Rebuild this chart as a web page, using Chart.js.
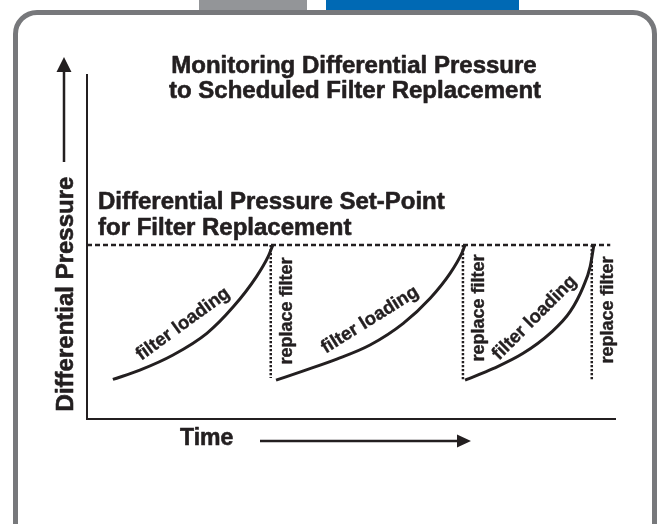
<!DOCTYPE html>
<html>
<head>
<meta charset="utf-8">
<script src="https://cdn.jsdelivr.net/npm/chart.js@4.4.1/dist/chart.umd.min.js"></script>
<style>
  html, body { margin: 0; padding: 0; background: #fff; overflow: hidden; }
  body { width: 661px; height: 524px; position: relative; }
  .tab { position: absolute; top: 0; height: 10px; }
  .tab.grey { left: 199px; width: 108px; background: #939598; }
  .tab.blue { left: 326px; width: 193px; background: #0069b4; }
  .frame {
    position: absolute; left: 13px; top: 10px; width: 634px; height: 530px;
    border: 5px solid #77787b; border-radius: 24px;
  }
  #chart { position: absolute; left: 0; top: 0; }
</style>
</head>
<body>
<div class="tab grey"></div>
<div class="tab blue"></div>
<div class="frame"></div>
<canvas id="chart" width="661" height="524"></canvas>
<script>
// values (time 0-100, pressure 0-100)
const setPoint = 50.6;
const setPointEnd = 99.1;

const load1Time = [4.9, 10.0, 16.3, 22.7, 27.7, 32.1, 34.3, 35.2];
const load1Dp   = [11.5, 14.2, 18.6, 24.9, 32.6, 41.4, 47.2, 50.6];

const load2Time = [35.8, 41.0, 47.3, 53.6, 59.9, 65.0, 68.8, 71.0, 71.6];
const load2Dp   = [11.3, 14.0, 17.4, 21.5, 27.8, 35.1, 42.4, 48.2, 50.6];

const load3Time = [71.6, 77.0, 82.6, 87.7, 91.5, 94.0, 95.3, 96.0];
const load3Dp   = [11.3, 14.7, 19.1, 24.9, 31.2, 38.5, 44.3, 50.6];

const replaceTime = [34.8, 71.2, 95.6];
const replaceLow  = [11.9, 11.3, 11.3];

const INK = '#231f20';
const FONT = '"Liberation Sans", Arial, Helvetica, sans-serif';

function pts(xs, ys) {
    return xs.map((x, i) => ({ x: x, y: ys[i] }));
}

const datasets = [
    {
        data: [{ x: 0, y: setPoint }, { x: setPointEnd, y: setPoint }],
        borderColor: INK, borderWidth: 2.5, borderDash: [5, 3]
    },
    { data: pts(load1Time, load1Dp), borderColor: INK, borderWidth: 3, cubicInterpolationMode: 'monotone' },
    { data: pts(load2Time, load2Dp), borderColor: INK, borderWidth: 3, cubicInterpolationMode: 'monotone' },
    { data: pts(load3Time, load3Dp), borderColor: INK, borderWidth: 3, cubicInterpolationMode: 'monotone' }
];
replaceTime.forEach((t, i) => {
    datasets.push({
        data: [{ x: t, y: setPoint }, { x: t, y: replaceLow[i] }],
        borderColor: INK, borderWidth: 2.5, borderDash: [2.2, 1.8]
    });
});

// bold text with a thin outline so it reads as heavy as the original
function heavyText(ctx, txt, x, y) {
    ctx.fillText(txt, x, y);
    ctx.strokeText(txt, x, y);
}

// text and arrows around the plot
const diagramText = {
    id: 'diagramText',
    afterDraw(chart) {
        const ctx = chart.ctx;
        const xs = chart.scales.x, ys = chart.scales.y;
        ctx.save();
        ctx.fillStyle = INK;
        ctx.strokeStyle = INK;
        ctx.lineWidth = 0.6;
        ctx.lineJoin = 'round';

        ctx.font = 'bold 24px ' + FONT;
        ctx.textAlign = 'center';
        ctx.textBaseline = 'alphabetic';
        heavyText(ctx, 'Monitoring Differential Pressure', 354, 73);
        heavyText(ctx, 'to Scheduled Filter Replacement', 355, 98);

        ctx.textAlign = 'left';
        heavyText(ctx, 'Differential Pressure Set-Point', 98, 209);
        heavyText(ctx, 'for Filter Replacement', 98, 235);
        ctx.font = 'bold 23px ' + FONT;
        heavyText(ctx, 'Time', 180, 445);

        ctx.font = 'bold 24px ' + FONT;
        ctx.save();
        ctx.translate(73, 294);
        ctx.rotate(-Math.PI / 2);
        ctx.textAlign = 'center';
        heavyText(ctx, 'Differential Pressure', 0, 0);
        ctx.restore();

        // replace filter labels beside the dotted drops
        ctx.font = 'bold 18px ' + FONT;
        ctx.lineWidth = 0.4;
        const replaceLabelY = [311, 308, 310];
        replaceTime.forEach((t, i) => {
            ctx.save();
            ctx.translate(xs.getPixelForValue(t) + 21, replaceLabelY[i]);
            ctx.rotate(-Math.PI / 2);
            ctx.textAlign = 'center';
            ctx.textBaseline = 'alphabetic';
            heavyText(ctx, 'replace filter', 0, 0);
            ctx.restore();
        });

        // filter loading labels above each curve
        ctx.font = 'bold 18.5px ' + FONT;
        const loadLabels = [
            { x: 18.2, y: 27.6, a: -36 },
            { x: 53.6, y: 28.8, a: -32 },
            { x: 84.8, y: 29.4, a: -45 }
        ];
        loadLabels.forEach(l => {
            ctx.save();
            ctx.translate(xs.getPixelForValue(l.x), ys.getPixelForValue(l.y));
            ctx.rotate(l.a * Math.PI / 180);
            ctx.textAlign = 'center';
            ctx.textBaseline = 'middle';
            heavyText(ctx, 'filter loading', 0, 0);
            ctx.restore();
        });

        // arrows
        ctx.lineWidth = 2.5;
        ctx.beginPath();
        ctx.moveTo(64, 162); ctx.lineTo(64, 70);
        ctx.moveTo(260, 441); ctx.lineTo(459, 441);
        ctx.stroke();
        ctx.beginPath();
        ctx.moveTo(64, 57); ctx.lineTo(71.5, 72); ctx.lineTo(56.5, 72); ctx.closePath();
        ctx.moveTo(471, 441); ctx.lineTo(457, 434.5); ctx.lineTo(457, 447.5); ctx.closePath();
        ctx.fill();
        ctx.restore();
    }
};

new Chart(document.getElementById('chart'), {
    type: 'scatter',
    data: { datasets: datasets },
    options: {
        responsive: false,
        animation: false,
        showLine: true,
        elements: { point: { radius: 0, hoverRadius: 0 } },
        layout: { padding: { left: 87, top: 75, right: 46, bottom: 105 } },
        plugins: { legend: { display: false }, tooltip: { enabled: false } },
        scales: {
            x: {
                type: 'linear', min: 0, max: 100,
                grid: { display: false, drawTicks: false },
                ticks: { display: false },
                border: { color: INK, width: 2 }
            },
            y: {
                type: 'linear', min: 0, max: 100,
                grid: { display: false, drawTicks: false },
                ticks: { display: false },
                border: { color: INK, width: 2 }
            }
        }
    },
    plugins: [diagramText]
});
</script>
</body>
</html>
